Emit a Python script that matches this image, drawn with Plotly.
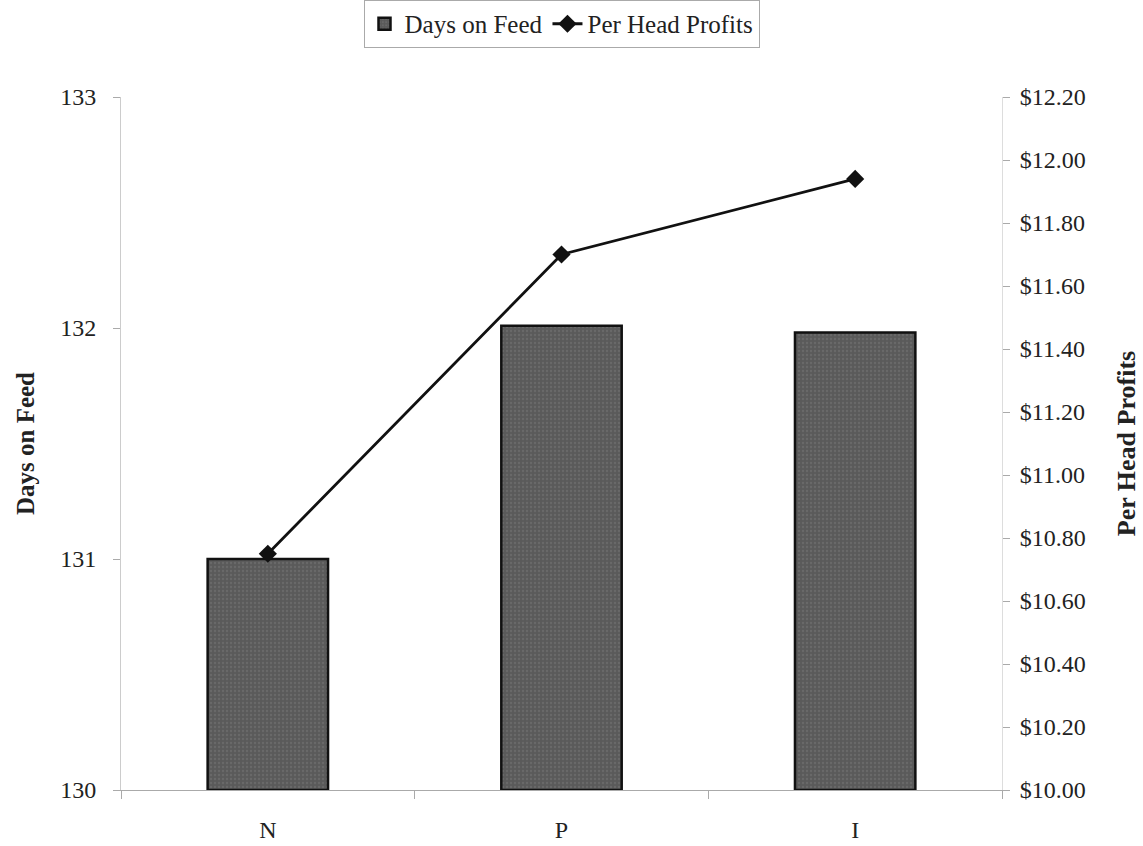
import plotly.graph_objects as go

categories = ["N", "P", "I"]
days_on_feed = [131.0, 132.01, 131.98]
per_head_profits = [10.75, 11.70, 11.94]

left_ticks = [130, 131, 132, 133]
right_ticks = [10.0, 10.2, 10.4, 10.6, 10.8, 11.0, 11.2, 11.4, 11.6, 11.8, 12.0, 12.2]

FONT = "Liberation Serif, Times New Roman, serif"

fig = go.Figure()
fig.add_trace(go.Bar(
    x=categories, y=[d - 130 for d in days_on_feed], base=130,
    name="Days on Feed",
    marker=dict(color="#5a5a5a", line=dict(color="#111111", width=2.5),
                pattern=dict(shape=".", fgcolor="#777777", size=4, solidity=0.25)),
    width=0.41,
))
fig.add_trace(go.Scatter(
    x=categories, y=per_head_profits, name="Per Head Profits", yaxis="y2",
    mode="lines+markers",
    line=dict(color="#111111", width=2.8),
    marker=dict(symbol="diamond", size=14, color="#111111"),
))

fig.update_layout(
    width=1143, height=846,
    margin=dict(l=121, r=141, t=97, b=56, autoexpand=False),
    paper_bgcolor="white", plot_bgcolor="white",
    font=dict(family=FONT, size=24, color="#222222"),
    showlegend=True,
    legend=dict(orientation="h", x=0.5, xanchor="center", xref="paper",
                y=1.14, yanchor="top",
                bordercolor="#aaaaaa", borderwidth=1,
                font=dict(family=FONT, size=25, color="#222222"),
                traceorder="normal"),
    xaxis=dict(showgrid=False, showline=True, linecolor="#aaaaaa", linewidth=1,
               ticks="outside", tickson="boundaries", ticklen=8, tickcolor="#aaaaaa",
               tickfont=dict(family=FONT, size=24, color="#222222"),
               ticklabelstandoff=18, range=[-0.5, 2.5]),
    yaxis=dict(range=[130, 133], tickvals=left_ticks, showgrid=False, showline=True,
               linecolor="#cccccc", linewidth=1, ticks="outside", ticklen=7,
               tickcolor="#aaaaaa", zeroline=False, ticklabelstandoff=12,
               tickfont=dict(family=FONT, size=24, color="#222222"),
               title=dict(text="<b>Days on Feed</b>",
                          font=dict(family=FONT, size=25, color="#222222"), standoff=18)),
    yaxis2=dict(range=[10, 12.2], tickvals=right_ticks, tickformat="$.2f",
                overlaying="y", side="right", showgrid=False, showline=True,
                linecolor="#dddddd", linewidth=1, ticks="outside", ticklen=7,
                tickcolor="#aaaaaa", zeroline=False, ticklabelstandoff=5,
                tickfont=dict(family=FONT, size=24, color="#222222"),
                title=dict(text="<b>Per Head Profits</b>",
                           font=dict(family=FONT, size=26, color="#222222"), standoff=32)),
    bargap=0.59,
)

fig.write_html("out.html")
